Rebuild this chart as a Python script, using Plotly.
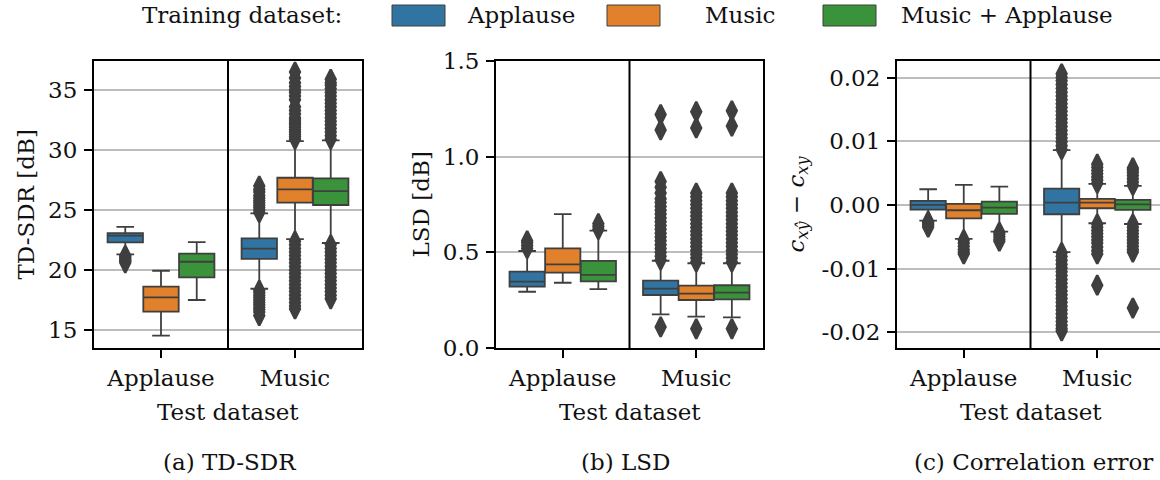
import plotly.graph_objects as go

W, H = 1160, 480
FONT = "DejaVu Serif"
FS = 23

test_sets = ["Applause", "Music"]
train_sets = ["Applause", "Music", "Music + Applause"]
colors = ["#3274a1", "#e1812c", "#3a923a"]
edge = "#3f3f3f"

# order of every list: test Applause (train A, M, M+A), test Music (train A, M, M+A)
# ---- (a) TD-SDR [dB]
sdr_q1 = [22.30, 16.53, 19.39, 20.92, 25.61, 25.42]
sdr_med = [22.86, 17.72, 20.69, 21.78, 26.72, 26.58]
sdr_q3 = [23.08, 18.61, 21.36, 22.64, 27.69, 27.64]
sdr_lo = [21.30, 14.53, 17.50, 18.44, 22.58, 22.25]
sdr_hi = [23.60, 19.94, 22.33, 24.72, 30.75, 30.80]
sdr_fliers = [
    [21.2, 21.1, 21.0, 20.9, 20.8, 20.7, 20.6],
    [],
    [],
    [24.8, 25.0, 25.2, 25.4, 25.6, 25.8, 26.0, 26.2, 26.5, 26.7, 27.0,
     18.3, 18.1, 17.9, 17.7, 17.5, 17.3, 17.1, 16.9, 16.7, 16.5, 16.2],
    [30.9, 31.1, 31.3, 31.5, 31.7, 31.9, 32.1, 32.3, 32.5, 32.7, 33.0, 33.3, 33.6,
     34.2, 34.5, 34.8, 35.0, 35.3, 35.6, 36.0, 36.5,
     22.4, 22.1, 21.8, 21.5, 21.2, 20.9, 20.6, 20.3, 20.0, 19.7, 19.4, 19.1, 18.8,
     18.5, 18.2, 17.9, 17.6, 17.3, 17.0, 16.75],
    [30.9, 31.2, 31.5, 31.8, 32.1, 32.4, 32.7, 33.0, 33.3, 33.6, 33.9, 34.2, 34.5,
     34.8, 35.1, 35.4, 35.6, 35.9,
     22.1, 21.8, 21.5, 21.2, 20.9, 20.6, 20.3, 20.0, 19.7, 19.4, 19.1, 18.8, 18.5,
     18.2, 17.9, 17.6],
]

# ---- (b) LSD [dB]
lsd_q1 = [0.321, 0.394, 0.348, 0.277, 0.251, 0.254]
lsd_med = [0.347, 0.437, 0.382, 0.310, 0.284, 0.289]
lsd_q3 = [0.399, 0.521, 0.455, 0.352, 0.326, 0.328]
lsd_lo = [0.294, 0.341, 0.308, 0.176, 0.164, 0.160]
lsd_hi = [0.507, 0.700, 0.613, 0.456, 0.443, 0.443]
lsd_fliers = [
    [0.52, 0.535, 0.55, 0.56],
    [],
    [0.62, 0.635, 0.65],
    [0.46, 0.48, 0.50, 0.52, 0.54, 0.56, 0.58, 0.60, 0.62, 0.64, 0.66, 0.68, 0.70,
     0.72, 0.74, 0.76, 0.78, 0.81, 0.84, 0.87, 1.14, 1.22, 0.11],
    [0.45, 0.47, 0.49, 0.51, 0.53, 0.55, 0.57, 0.59, 0.61, 0.63, 0.65, 0.67, 0.69,
     0.71, 0.73, 0.75, 0.77, 0.79, 0.81, 1.15, 1.235, 0.10],
    [0.45, 0.47, 0.49, 0.51, 0.53, 0.55, 0.57, 0.59, 0.61, 0.63, 0.65, 0.67, 0.69,
     0.71, 0.73, 0.75, 0.77, 0.79, 0.81, 1.16, 1.24, 0.10],
]

# ---- (c) Correlation error
cor_q1 = [-0.00073, -0.00210, -0.00141, -0.00147, -0.00052, -0.00079]
cor_med = [0.00000, -0.00084, -0.00042, 0.00037, 0.00037, 0.00010]
cor_q3 = [0.00063, 0.00016, 0.00052, 0.00256, 0.00094, 0.00079]
cor_lo = [-0.00246, -0.00534, -0.00420, -0.00740, -0.00288, -0.00300]
cor_hi = [0.00246, 0.00314, 0.00288, 0.00860, 0.00330, 0.00300]
cor_fliers = [
    [-0.0026, -0.0028, -0.0030, -0.0032, -0.0035],
    [-0.0055, -0.0060, -0.0065, -0.0070, -0.0074, -0.0077],
    [-0.0043, -0.0046, -0.0050, -0.0054, -0.0057],
    [0.0087, 0.0093, 0.0099, 0.0105, 0.0111, 0.0117, 0.0123, 0.0129, 0.0135, 0.0141,
     0.0147, 0.0153, 0.0159, 0.0165, 0.0171, 0.0177, 0.0183, 0.0189, 0.0195, 0.0200,
     0.0206,
     -0.0075, -0.0081, -0.0087, -0.0093, -0.0099, -0.0105, -0.0111, -0.0117, -0.0123,
     -0.0129, -0.0135, -0.0141, -0.0147, -0.0153, -0.0159, -0.0165, -0.0171, -0.0177,
     -0.0183, -0.0189, -0.0194, -0.0198],
    [0.0034, 0.0039, 0.0044, 0.0049, 0.0054, 0.0059, 0.0064,
     -0.0030, -0.0035, -0.0040, -0.0045, -0.0050, -0.0055, -0.0060, -0.0066, -0.0072,
     -0.0077, -0.0126],
    [0.0031, 0.0036, 0.0041, 0.0046, 0.0051, 0.0055, 0.0058,
     -0.0030, -0.0035, -0.0040, -0.0045, -0.0050, -0.0055, -0.0060, -0.0065, -0.0070,
     -0.0074, -0.0162],
]

sdr_ticks = [15, 20, 25, 30, 35]
sdr_ticktext = ["15", "20", "25", "30", "35"]
lsd_ticks = [0.0, 0.5, 1.0, 1.5]
lsd_ticktext = ["0.0", "0.5", "1.0", "1.5"]
cor_ticks = [-0.02, -0.01, 0.0, 0.01, 0.02]
cor_ticktext = ["-0.02", "-0.01", "0.00", "0.01", "0.02"]

panels = [
    dict(q1=sdr_q1, med=sdr_med, q3=sdr_q3, lo=sdr_lo, hi=sdr_hi, fl=sdr_fliers,
         tv=sdr_ticks, tt=sdr_ticktext, yr=[13.5, 37.42],
         px0=94, px1=362, ytitle="TD-SDR [dB]", ytx=25,
         caption="(a) TD-SDR", capx=229),
    dict(q1=lsd_q1, med=lsd_med, q3=lsd_q3, lo=lsd_lo, hi=lsd_hi, fl=lsd_fliers,
         tv=lsd_ticks, tt=lsd_ticktext, yr=[0.0, 1.5],
         px0=496, px1=763, ytitle="LSD [dB]", ytx=420,
         caption="(b) LSD", capx=625),
    dict(q1=cor_q1, med=cor_med, q3=cor_q3, lo=cor_lo, hi=cor_hi, fl=cor_fliers,
         tv=cor_ticks, tt=cor_ticktext, yr=[-0.02247, 0.0226],
         px0=897, px1=1164, ytitle="<i>c</i><sub><i>xŷ</i></sub> − <i>c</i><sub><i>xy</i></sub>",
         ytx=797, caption="(c) Correlation error", capx=1033),
]

PLOT_TOP, PLOT_BOT = 61, 348
box_w = 0.8 / 3

fig = go.Figure()
layout = dict(
    width=W, height=H, margin=dict(l=0, r=0, t=0, b=0, pad=0, autoexpand=False),
    paper_bgcolor="white", plot_bgcolor="white",
    font=dict(family=FONT, size=FS, color="#111111"),
    showlegend=False, boxmode="overlay",
)
shapes, annotations = [], []

for p_i, P in enumerate(panels):
    sfx = "" if p_i == 0 else str(p_i + 1)
    xa, ya = "x" + sfx, "y" + sfx
    full_px = P["px1"] - P["px0"]
    vis_px1 = min(P["px1"], W)
    xr1 = -0.5 + 2.0 * (vis_px1 - P["px0"]) / full_px
    for h, col in enumerate(colors):
        idx = [t * 3 + h for t in range(len(test_sets))]
        xs = [t + (h - 1) * box_w for t in range(len(test_sets))]
        fig.add_trace(go.Box(
            x=xs, q1=[P["q1"][i] for i in idx], median=[P["med"][i] for i in idx],
            q3=[P["q3"][i] for i in idx], lowerfence=[P["lo"][i] for i in idx],
            upperfence=[P["hi"][i] for i in idx],
            width=box_w * 0.99, whiskerwidth=0.5, boxpoints=False,
            fillcolor=col, line=dict(color=edge, width=1.8),
            xaxis=xa, yaxis=ya, hoverinfo="skip",
        ))
        for t, i in enumerate(idx):
            vals = P["fl"][i]
            if not vals:
                continue
            fig.add_trace(go.Scatter(
                x=[xs[t]] * len(vals), y=vals, mode="markers",
                marker=dict(symbol="diamond-tall", size=14, color=edge,
                            line=dict(color=edge, width=2.5)),
                xaxis=xa, yaxis=ya, hoverinfo="skip", cliponaxis=True,
            ))
    layout["xaxis" + sfx] = dict(
        domain=[P["px0"] / W, vis_px1 / W], anchor=ya, range=[-0.5, xr1],
        tickvals=[0, 1], ticktext=test_sets, ticks="outside", ticklen=8,
        tickwidth=1.6, tickcolor="black", showgrid=False, zeroline=False,
        showline=True, linecolor="black", linewidth=2, mirror=True,
        automargin=False,
        tickfont=dict(family=FONT, size=FS, color="#111111"),
    )
    layout["yaxis" + sfx] = dict(
        domain=[1 - PLOT_BOT / H, 1 - PLOT_TOP / H], anchor=xa, range=P["yr"],
        tickvals=P["tv"], ticktext=P["tt"], ticks="outside", ticklen=8,
        tickwidth=1.6, tickcolor="black", showgrid=True, gridcolor="#bdbdbd",
        gridwidth=1.6, zeroline=False, showline=True, linecolor="black",
        linewidth=2, mirror=(p_i < 2), ticklabelstandoff=2, automargin=False,
        tickfont=dict(family=FONT, size=FS, color="#111111"),
    )
    shapes.append(dict(type="line", xref=xa, yref=ya + " domain", x0=0.5, x1=0.5,
                       y0=0, y1=1, line=dict(color="black", width=2), layer="above"))
    cx = (P["px0"] + P["px1"]) / 2
    annotations.append(dict(text="Test dataset", x=cx / W, y=1 - 412 / H,
                            xref="paper", yref="paper", showarrow=False,
                            xanchor="center", yanchor="middle"))
    annotations.append(dict(text=P["caption"], x=P["capx"] / W, y=1 - 462 / H,
                            xref="paper", yref="paper", showarrow=False,
                            xanchor="center", yanchor="middle"))
    annotations.append(dict(text=P["ytitle"], x=P["ytx"] / W,
                            y=1 - (PLOT_TOP + PLOT_BOT) / 2 / H,
                            xref="paper", yref="paper", showarrow=False, textangle=-90,
                            xanchor="center", yanchor="middle"))

# legend (drawn manually)
annotations.append(dict(text="Training dataset:", x=140 / W, y=1 - 15 / H, xref="paper",
                        yref="paper", showarrow=False, xanchor="left", yanchor="middle"))
patch_x = [392, 607, 823]
label_x = [465, 703, 899]
for h, name in enumerate(train_sets):
    shapes.append(dict(type="rect", xref="paper", yref="paper",
                       x0=patch_x[h] / W, x1=(patch_x[h] + 53) / W,
                       y0=1 - 26 / H, y1=1 - 5 / H, fillcolor=colors[h],
                       line=dict(color=edge, width=1)))
    annotations.append(dict(text=name, x=label_x[h] / W, y=1 - 15 / H, xref="paper",
                            yref="paper", showarrow=False, xanchor="left",
                            yanchor="middle"))

layout["shapes"] = shapes
layout["annotations"] = annotations
fig.update_layout(**layout)
fig.write_html("out.html")
